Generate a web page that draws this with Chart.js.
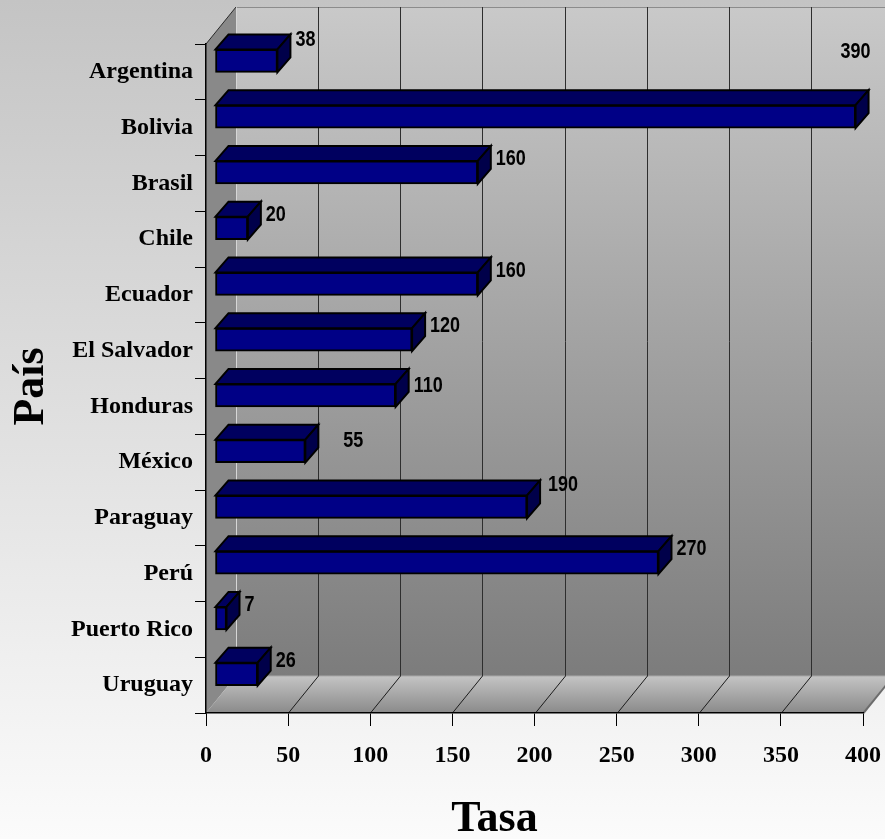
<!DOCTYPE html>
<html>
<head>
<meta charset="utf-8">
<script src="https://cdn.jsdelivr.net/npm/chart.js@4.4.1/dist/chart.umd.min.js"></script>
<style>
  html, body { margin: 0; padding: 0; background: #ffffff; }
  canvas { display: block; }
</style>
</head>
<body>
<canvas id="grafico" width="885" height="839"></canvas>
<script>
// Datos: tasa por país
const paises = ['Argentina', 'Bolivia', 'Brasil', 'Chile', 'Ecuador', 'El Salvador',
                'Honduras', 'México', 'Paraguay', 'Perú', 'Puerto Rico', 'Uruguay'];
const tasas = [38, 390, 160, 20, 160, 120, 110, 55, 190, 270, 7, 26];
const marcasX = [0, 50, 100, 150, 200, 250, 300, 350, 400];
const tituloX = 'Tasa';
const tituloY = 'País';

// Geometría de la caja 3D (profundidad de paredes y de las barras)
const PROF = { dx: 30, dy: -37 };
const BARRA = { x0: 9, y0: -11, dx: 13, dy: -15 };
const ETIQ = { dx: 5, dy: 13 };
const ajusteEtiqueta = {
  'Argentina': [0, -8], 'Bolivia': [-33, -51], 'Honduras': [0, 4],
  'México': [20, 3], 'Paraguay': [3, -9]
};

const SERIF = "'Liberation Serif', 'Times New Roman', serif";

function poligono(ctx, pts) {
  ctx.beginPath();
  ctx.moveTo(pts[0][0], pts[0][1]);
  for (let i = 1; i < pts.length; i++) ctx.lineTo(pts[i][0], pts[i][1]);
  ctx.closePath();
}
function linea(ctx, x1, y1, x2, y2, color, w) {
  ctx.beginPath();
  ctx.moveTo(x1, y1);
  ctx.lineTo(x2, y2);
  ctx.strokeStyle = color;
  ctx.lineWidth = w;
  ctx.stroke();
}

// Fondo, paredes, piso y líneas de división
const caja3D = {
  id: 'caja3D',
  beforeDraw(chart) {
    const ctx = chart.ctx, a = chart.chartArea, sx = chart.scales.x;
    const L = a.left, R = a.right, T = a.top, B = a.bottom;
    const dx = PROF.dx, dy = PROF.dy;
    ctx.save();
    let g = ctx.createLinearGradient(0, 0, 0, chart.height);
    g.addColorStop(0, '#c4c4c4');
    g.addColorStop(1, '#fbfbfb');
    ctx.fillStyle = g;
    ctx.fillRect(0, 0, chart.width, chart.height);

    // pared del fondo
    g = ctx.createLinearGradient(0, T + dy, 0, B + dy);
    g.addColorStop(0, '#c9c9c9');
    g.addColorStop(1, '#7c7c7c');
    ctx.fillStyle = g;
    ctx.fillRect(L + dx, T + dy, R - L, B - T);

    // pared lateral
    ctx.fillStyle = '#898989';
    poligono(ctx, [[L, T], [L + dx, T + dy], [L + dx, B + dy], [L, B]]);
    ctx.fill();

    // piso
    g = ctx.createLinearGradient(0, B + dy, 0, B);
    g.addColorStop(0, '#c4c4c4');
    g.addColorStop(1, '#8a8a8a');
    ctx.fillStyle = g;
    poligono(ctx, [[L, B], [R, B], [R + dx, B + dy], [L + dx, B + dy]]);
    ctx.fill();

    // bordes de la caja
    linea(ctx, L + dx, T + dy + 0.5, R + dx, T + dy + 0.5, '#8c8c8c', 1);
    linea(ctx, L + dx + 0.5, T + dy, L + dx + 0.5, B + dy, '#d6d6d6', 1);
    linea(ctx, L, T, L + dx, T + dy, '#2a2a2a', 1);
    linea(ctx, L + dx, B + dy, R + dx, B + dy, '#a8a8a8', 1);

    // líneas de división en la pared y en el piso
    marcasX.forEach(v => {
      if (v === 0) return;
      const x = Math.round(sx.getPixelForValue(v)) + 0.5;
      const ultimo = v === marcasX[marcasX.length - 1];
      linea(ctx, x + dx, T + dy, x + dx, B + dy, '#2e2e2e', 1);
      linea(ctx, x, B, x + dx, B + dy, ultimo ? '#6c6c6c' : '#1c1c1c', ultimo ? 2 : 1);
    });
    ctx.restore();
  }
};

// Caras superior y lateral de cada barra, y las etiquetas de valor
const barras3D = {
  id: 'barras3D',
  beforeDatasetsDraw(chart) {
    chart.ctx.save();
    chart.ctx.translate(BARRA.x0, BARRA.y0);
  },
  afterDatasetsDraw(chart) {
    const ctx = chart.ctx;
    const meta = chart.getDatasetMeta(0);
    const bx = BARRA.dx, by = BARRA.dy;
    const esquinas = [];
    meta.data.forEach(el => {
      const p = el.getProps(['x', 'y', 'base', 'height'], true);
      const x0 = Math.min(p.base, p.x), x1 = Math.max(p.base, p.x);
      const y0 = p.y - p.height / 2, y1 = p.y + p.height / 2;
      ctx.lineWidth = 2;
      ctx.lineJoin = 'miter';
      ctx.strokeStyle = '#000000';
      ctx.fillStyle = '#00005f';
      poligono(ctx, [[x0, y0], [x0 + bx, y0 + by], [x1 + bx, y0 + by], [x1, y0]]);
      ctx.fill(); ctx.stroke();
      ctx.fillStyle = '#00004a';
      poligono(ctx, [[x1, y0], [x1 + bx, y0 + by], [x1 + bx, y1 + by], [x1, y1]]);
      ctx.fill(); ctx.stroke();
      esquinas.push([x1 + bx + BARRA.x0, y0 + by + BARRA.y0]);
    });
    ctx.restore();

    // etiquetas en letra estrecha (Arial Narrow a partir de Liberation Sans comprimida)
    ctx.save();
    ctx.fillStyle = '#000000';
    ctx.textBaseline = 'middle';
    ctx.textAlign = 'left';
    ctx.font = "bold 22.5px 'Liberation Sans', Arial, sans-serif";
    esquinas.forEach((c, i) => {
      const aj = ajusteEtiqueta[paises[i]] || [0, 0];
      const tx = c[0] + ETIQ.dx + aj[0], ty = c[1] + ETIQ.dy + aj[1];
      ctx.save();
      ctx.translate(tx, ty);
      ctx.scale(0.8, 1);
      ctx.fillText(String(tasas[i]), 0, 0);
      ctx.restore();
    });
    ctx.restore();
  }
};

// Títulos de los ejes
const titulos = {
  id: 'titulos',
  afterDraw(chart) {
    const ctx = chart.ctx, a = chart.chartArea;
    ctx.save();
    ctx.fillStyle = '#000000';
    ctx.font = 'bold 44px ' + SERIF;
    ctx.textAlign = 'center';
    ctx.textBaseline = 'alphabetic';
    ctx.fillText(tituloX, (a.left + a.right) / 2 - 40, 831);
    ctx.translate(43, (a.top + a.bottom) / 2 + 8);
    ctx.rotate(-Math.PI / 2);
    ctx.fillText(tituloY, 0, 0);
    ctx.restore();
  }
};

new Chart(document.getElementById('grafico'), {
  type: 'bar',
  data: {
    labels: paises,
    datasets: [{
      label: tituloX,
      data: tasas,
      backgroundColor: '#000086',
      borderColor: '#000000',
      borderWidth: 2,
      borderSkipped: false,
      barThickness: 23,
      clip: false
    }]
  },
  plugins: [caja3D, barras3D, titulos],
  options: {
    indexAxis: 'y',
    responsive: false,
    animation: false,
    devicePixelRatio: 1,
    layout: { padding: { top: 44, right: 22, left: 0, bottom: 0 } },
    plugins: {
      legend: { display: false },
      tooltip: { enabled: false }
    },
    scales: {
      x: {
        min: 0,
        max: 400,
        afterFit(s) { s.height = 126; s.paddingLeft = 0; s.paddingRight = 0; },
        afterBuildTicks(s) { s.ticks = marcasX.map(v => ({ value: v })); },
        grid: { drawOnChartArea: false, tickLength: 13, color: '#000000', lineWidth: 1 },
        border: { display: true, color: '#000000', width: 1.5 },
        ticks: {
          color: '#000000',
          padding: 15,
          maxRotation: 0,
          autoSkip: false,
          font: { family: SERIF, size: 24, weight: 'bold' }
        }
      },
      y: {
        afterFit(s) { s.width = 206; s.paddingTop = 0; s.paddingBottom = 0; },
        grid: { drawOnChartArea: false, tickLength: 11, color: '#000000', lineWidth: 1 },
        border: { display: true, color: '#000000', width: 1.5 },
        ticks: {
          color: '#000000',
          padding: 2,
          autoSkip: false,
          font: { family: SERIF, size: 24, weight: 'bold' }
        }
      }
    }
  }
});
</script>
</body>
</html>
